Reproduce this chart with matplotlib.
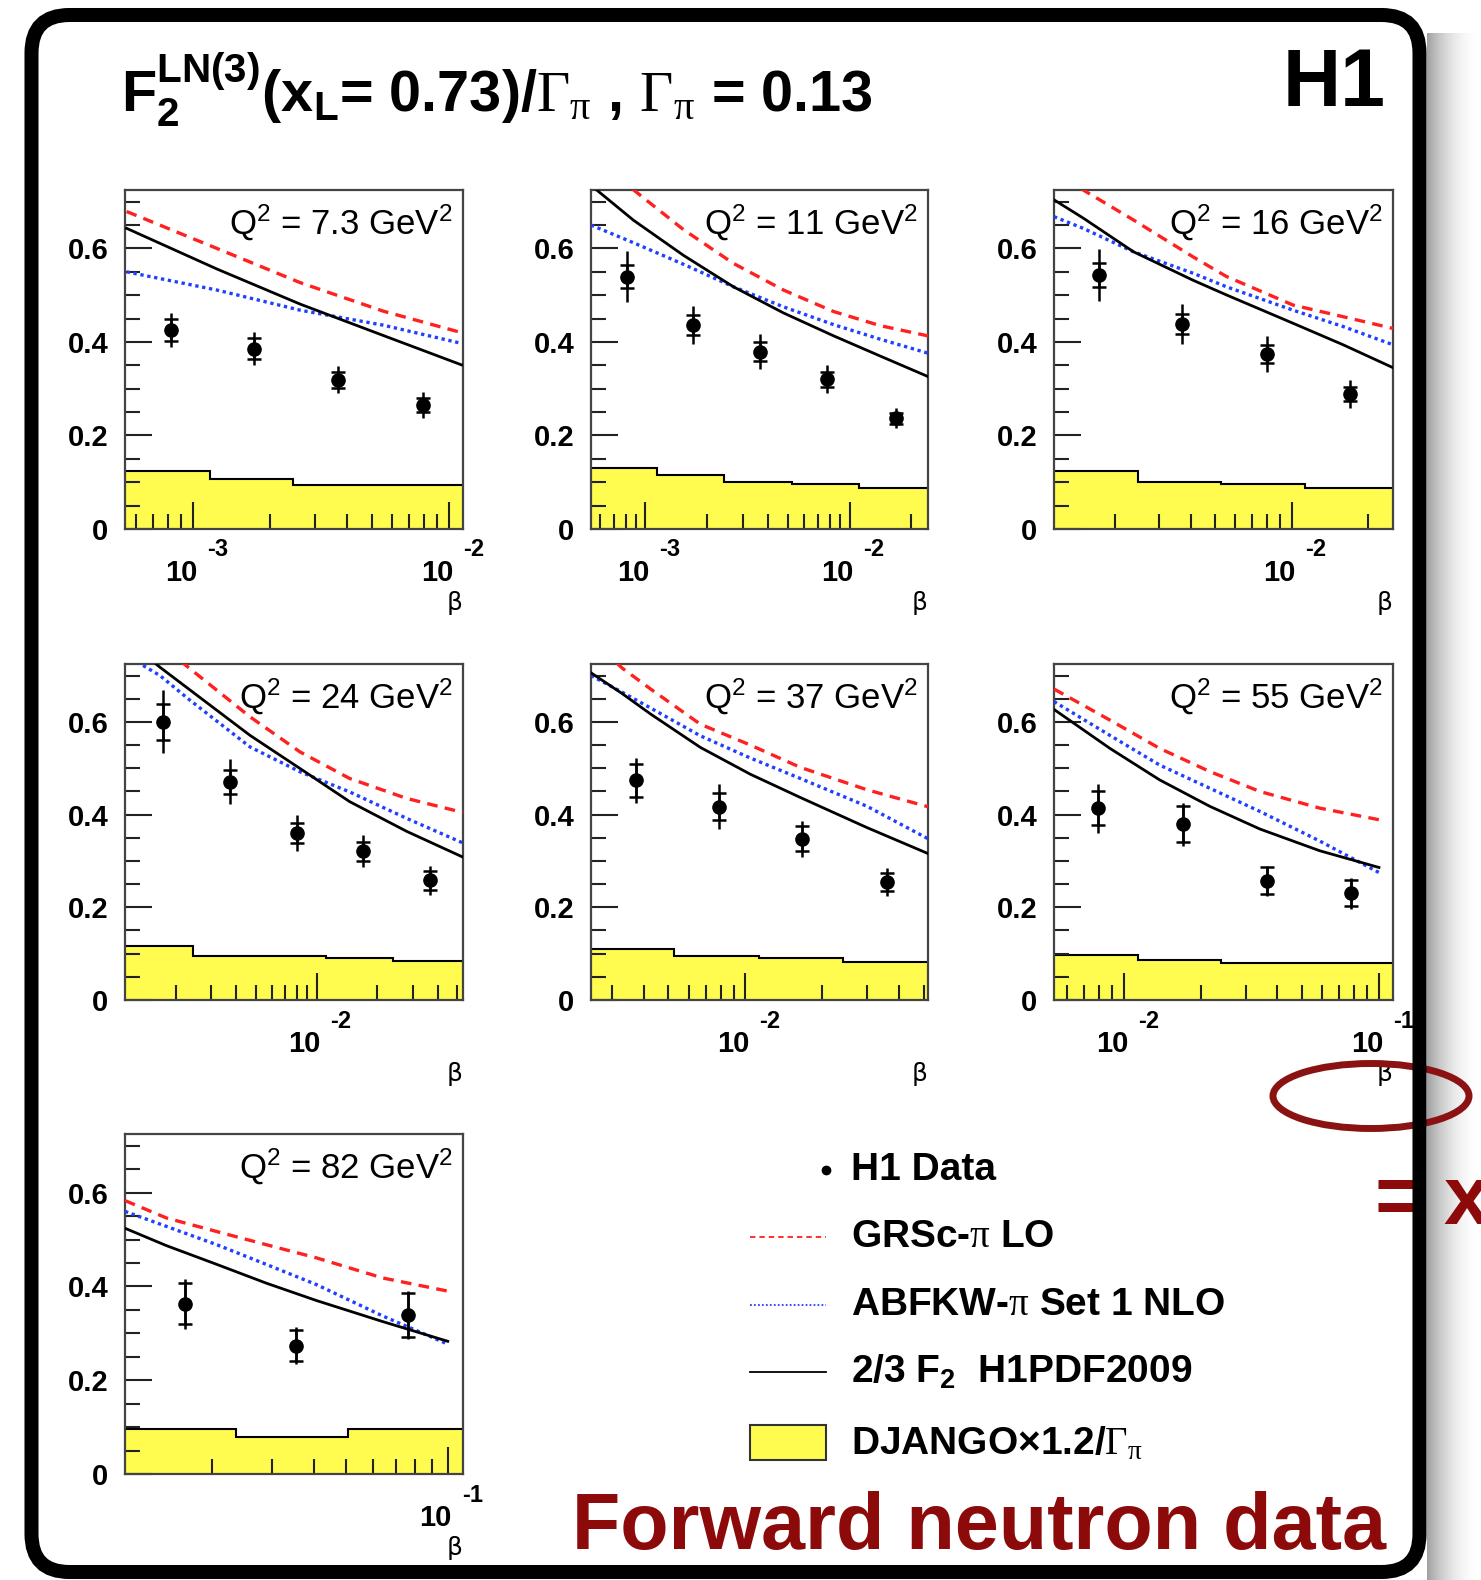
import numpy as np
import matplotlib
matplotlib.use('Agg')
import matplotlib.pyplot as plt
from matplotlib.patches import FancyBboxPatch, Ellipse, Rectangle
from matplotlib.transforms import offset_copy, blended_transform_factory
from matplotlib.ticker import LogLocator, NullFormatter, MultipleLocator, FixedLocator

plt.rcParams['font.family'] = ['Liberation Sans', 'DejaVu Sans']
plt.rcParams['mathtext.fontset'] = 'custom'
plt.rcParams['mathtext.rm'] = 'Liberation Serif'
plt.rcParams['mathtext.default'] = 'regular'

W, H = 1481, 1580

# ---- data ----
q2_labels = ['7.3', '11', '16', '24', '37', '55', '82']

x_ranges = [(5.42e-4, 1.135e-2), (5.42e-4, 2.42e-2), (1.15e-3, 2.52e-2),
            (1.117e-3, 5.34e-2), (2.49e-3, 5.18e-2), (5.32e-3, 0.1135),
            (1.1e-2, 0.111)]

# H1 data points
data_beta = [[8.2e-4, 1.73e-3, 3.68e-3, 7.9e-3],
             [8.1e-4, 1.72e-3, 3.66e-3, 7.75e-3, 1.69e-2],
             [1.74e-3, 3.7e-3, 7.97e-3, 1.71e-2],
             [1.73e-3, 3.7e-3, 7.96e-3, 1.71e-2, 3.66e-2],
             [3.72e-3, 7.87e-3, 1.66e-2, 3.58e-2],
             [7.93e-3, 1.70e-2, 3.64e-2, 7.8e-2],
             [1.66e-2, 3.55e-2, 7.6e-2]]
data_f2 = [[0.426, 0.386, 0.319, 0.265],
           [0.540, 0.436, 0.379, 0.320, 0.237],
           [0.543, 0.4385, 0.374, 0.288],
           [0.600, 0.471, 0.360, 0.321, 0.258],
           [0.474, 0.417, 0.348, 0.255],
           [0.414, 0.379, 0.257, 0.230],
           [0.363, 0.274, 0.339]]
data_tot = [[0.037, 0.036, 0.029, 0.027],
            [0.055, 0.041, 0.037, 0.030, 0.021],
            [0.055, 0.043, 0.039, 0.030],
            [0.068, 0.048, 0.039, 0.034, 0.032],
            [0.049, 0.048, 0.039, 0.030],
            [0.053, 0.046, 0.033, 0.034],
            [0.053, 0.039, 0.051]]
data_stat = [[0.024, 0.022, 0.017, 0.015],
             [0.025, 0.021, 0.020, 0.016, 0.012],
             [0.026, 0.021, 0.020, 0.015],
             [0.038, 0.026, 0.021, 0.020, 0.021],
             [0.035, 0.029, 0.027, 0.020],
             [0.036, 0.039, 0.029, 0.028],
             [0.044, 0.034, 0.046]]

# model curves
curve_beta = [[5.5e-4, 1.24e-3, 2.62e-3, 5.53e-3, 1.12e-2],
              [5.42e-4, 8.77e-4, 1.54e-3, 2.70e-3, 4.75e-3, 8.36e-3, 1.41e-2, 2.42e-2],
              [1.15e-3, 1.50e-3, 2.37e-3, 4.08e-3, 5.53e-3, 1.014e-2, 1.60e-2, 2.52e-2],
              [1.117e-3, 1.667e-3, 2.30e-3, 4.67e-3, 8.26e-3, 1.46e-2, 2.80e-2, 5.35e-2],
              [2.49e-3, 3.30e-3, 4.26e-3, 6.67e-3, 1.047e-2, 1.64e-2, 2.99e-2, 5.18e-2],
              [5.32e-3, 8.81e-3, 1.38e-2, 2.17e-2, 3.41e-2, 5.86e-2, 0.1],
              [1.10e-2, 1.46e-2, 2.06e-2, 2.89e-2, 4.07e-2, 6.41e-2, 0.1]]
grsc_lo = [[0.679, 0.600, 0.527, 0.466, 0.420],
           [0.80, 0.725, 0.640, 0.568, 0.511, 0.465, 0.435, 0.413],
           [0.78, 0.725, 0.661, 0.582, 0.54, 0.479, 0.454, 0.429],
           [0.83, 0.77, 0.718, 0.611, 0.5355, 0.478, 0.435, 0.4045],
           [0.78, 0.716, 0.671, 0.595, 0.55, 0.502, 0.4536, 0.417],
           [0.671, 0.604, 0.543, 0.493, 0.45, 0.414, 0.389],
           [0.583, 0.546, 0.517, 0.489, 0.461, 0.418, 0.39]]
abfkw_nlo = [[0.550, 0.511, 0.468, 0.436, 0.397],
             [0.650, 0.612, 0.566, 0.518, 0.475, 0.437, 0.406, 0.376],
             [0.668, 0.643, 0.593, 0.547, 0.518, 0.468, 0.433, 0.394],
             [0.745, 0.700, 0.650, 0.546, 0.4926, 0.449, 0.392, 0.3386],
             [0.70, 0.664, 0.630, 0.570, 0.522, 0.478, 0.418, 0.348],
             [0.644, 0.571, 0.507, 0.457, 0.407, 0.343, 0.275],
             [0.56, 0.528, 0.489, 0.447, 0.404, 0.337, 0.277]]
h1pdf = [[0.643, 0.556, 0.481, 0.414, 0.351],
         [0.735, 0.660, 0.585, 0.518, 0.462, 0.413, 0.370, 0.326],
         [0.704, 0.665, 0.593, 0.532, 0.5006, 0.44, 0.394, 0.345],
         [0.78, 0.718, 0.672, 0.571, 0.4997, 0.428, 0.364, 0.308],
         [0.706, 0.661, 0.617, 0.545, 0.487, 0.437, 0.372, 0.316],
         [0.627, 0.543, 0.475, 0.418, 0.369, 0.322, 0.286],
         [0.524, 0.487, 0.447, 0.407, 0.370, 0.325, 0.283]]

# DJANGO histograms
django_edges = [[5.0e-4, 1.165e-3, 2.46e-3, 1.2e-2],
                [5.0e-4, 1.14e-3, 2.42e-3, 5.22e-3, 1.11e-2, 2.5e-2],
                [1.1e-3, 2.48e-3, 5.28e-3, 1.13e-2, 2.6e-2],
                [1.1e-3, 2.44e-3, 1.12e-2, 2.4e-2, 5.5e-2],
                [2.4e-3, 5.25e-3, 1.127e-2, 2.41e-2, 5.3e-2],
                [5.2e-3, 1.14e-2, 2.41e-2, 0.115],
                [1.08e-2, 2.35e-2, 5.05e-2, 0.115]]
django_h = [[0.125, 0.107, 0.094],
            [0.130, 0.1155, 0.100, 0.096, 0.087],
            [0.125, 0.101, 0.096, 0.087],
            [0.1166, 0.095, 0.090, 0.0845],
            [0.1093, 0.096, 0.091, 0.0815],
            [0.0964, 0.087, 0.080],
            [0.097, 0.078, 0.097]]

YELLOW = '#fffb4f'
RED = '#ff2020'
BLUE = '#2040ff'
DARKRED = '#8c0a0a'

# panel frames in pixels: left, top, right, bottom
panel_boxes = [(125, 190, 463, 529), (591, 190, 928, 529), (1054, 190, 1393, 529),
               (125, 664, 463, 1000), (591, 664, 928, 1000), (1054, 664, 1393, 1000),
               (125, 1134, 463, 1474)]

fig = plt.figure(figsize=(W / 100, H / 100), dpi=100)


def px_rect(l, t, r, b):
    return [l / W, 1 - b / H, (r - l) / W, (b - t) / H]


for i in range(7):
    l, t, r, b = panel_boxes[i]
    ax = fig.add_axes(px_rect(l, t, r, b))
    ax.set_xscale('log')

    ax.stairs(django_h[i], django_edges[i], fill=True, color=YELLOW, zorder=1)
    ax.stairs(django_h[i], django_edges[i], color='black', lw=1.5,
              baseline=None, zorder=1.1)

    ax.plot(curve_beta[i], grsc_lo[i], color=RED, lw=2.4, ls=(0, (3.2, 2.2)), zorder=3)
    ax.plot(curve_beta[i], abfkw_nlo[i], color=BLUE, lw=2.4, ls=(0, (1, 1.1)), zorder=3)
    ax.plot(curve_beta[i], h1pdf[i], color='black', lw=2.0, zorder=3)

    ax.errorbar(data_beta[i], data_f2[i], yerr=data_tot[i], fmt='o', color='black',
                ms=9.5, elinewidth=1.8, capsize=0, zorder=4)
    ax.errorbar(data_beta[i], data_f2[i], yerr=data_stat[i], fmt='none',
                ecolor='black', elinewidth=1.8, capsize=5, capthick=1.8, zorder=4)

    ax.set_xlim(*x_ranges[i])
    ax.set_ylim(0, 0.725)

    for s in ax.spines.values():
        s.set_color('#444444')
        s.set_linewidth(1.6)

    ax.yaxis.set_major_locator(FixedLocator([0, 0.2, 0.4, 0.6]))
    ax.yaxis.set_minor_locator(MultipleLocator(0.05))
    ax.set_yticklabels(['0', '0.2', '0.4', '0.6'], fontsize=21, fontweight='bold')
    ax.xaxis.set_major_locator(LogLocator(base=10, numticks=10))
    ax.xaxis.set_minor_locator(LogLocator(base=10, subs=np.arange(2, 10), numticks=20))
    ax.xaxis.set_major_formatter(NullFormatter())
    ax.xaxis.set_minor_formatter(NullFormatter())
    ax.tick_params(which='both', direction='in', top=False, right=False,
                   color='#222222', width=1.5)
    ax.tick_params(which='major', length=19.5, pad=12)
    ax.tick_params(which='minor', length=10.5)

    # ROOT style decade labels
    base = blended_transform_factory(ax.transData, ax.transAxes)
    lo, hi = x_ranges[i]
    for d in range(int(np.floor(np.log10(lo))), int(np.ceil(np.log10(hi))) + 1):
        if lo <= 10.0 ** d <= hi:
            ax.text(10.0 ** d, 0, '10', transform=offset_copy(base, fig, x=-12, y=-44, units='dots'),
                    ha='center', va='center', fontsize=21, fontweight='bold', clip_on=False)
            ax.text(10.0 ** d, 0, str(d), transform=offset_copy(base, fig, x=14, y=-21, units='dots'),
                    ha='left', va='center', fontsize=17, fontweight='bold', clip_on=False)

    ax.text(1, 0, 'β', transform=offset_copy(ax.transAxes, fig, x=-8, y=-74, units='dots'),
            ha='center', va='center', fontsize=18, family='DejaVu Sans')
    ax.text(1, 1, 'Q$^2$ = %s GeV$^2$' % q2_labels[i],
            transform=offset_copy(ax.transAxes, fig, x=-10, y=-33, units='dots'),
            ha='right', va='center', fontsize=25)

# ---- slide decorations, title and legend ----
deco = fig.add_axes([0, 0, 1, 1], zorder=5)
deco.set_autoscale_on(False)
deco.set_xlim(0, W)
deco.set_ylim(H, 0)
deco.axis('off')
deco.patch.set_alpha(0)

t = np.linspace(0, 1, 120)
shade = 1 - 0.37 * (1 - t) ** 2
deco.imshow(shade[None, :], cmap='gray', vmin=0, vmax=1, aspect='auto',
            extent=(1427, 1481, 1580, 33), zorder=0)

deco.add_patch(Ellipse((1371, 1096), 196, 65, fill=False, edgecolor='#8b1212',
                       lw=5, zorder=1))
deco.text(1375, 1224, '=', color=DARKRED, fontsize=60, fontweight='bold',
          ha='left', va='baseline', zorder=1)
deco.text(1443, 1224, 'x', color=DARKRED, fontsize=60, fontweight='bold',
          ha='left', va='baseline', zorder=1)

deco.add_patch(FancyBboxPatch((31.5, 15), 1388, 1557,
                              boxstyle='round,pad=0,rounding_size=38',
                              facecolor='none', edgecolor='black', lw=10.1, zorder=3))

deco.text(121, 111, r'F$_2^{LN(3)}$(x$_L$= 0.73)/$\mathrm{\Gamma_\pi}$ , $\mathrm{\Gamma_\pi}$ = 0.13',
          fontsize=41.5, fontweight='bold', ha='left', va='baseline')
deco.text(1386, 106, 'H1', fontsize=58, fontweight='bold', ha='right', va='baseline')

legend_rows = [1170, 1237, 1305, 1372, 1443]
legend_texts = ['H1 Data', r'GRSc-$\mathrm{\pi}$ LO', r'ABFKW-$\mathrm{\pi}$ Set 1 NLO',
                '2/3 F$_2$  H1PDF2009', r'DJANGO×1.2/$\mathrm{\Gamma_\pi}$']
deco.plot([826], [legend_rows[0]], 'o', color='black', ms=6)
deco.plot([750, 826], [legend_rows[1]] * 2, color=RED, lw=1.3, ls=(0, (3, 2.2)))
deco.plot([750, 826], [legend_rows[2]] * 2, color=BLUE, lw=1.3, ls=(0, (1, 1.2)))
deco.plot([750, 826], [legend_rows[3]] * 2, color='black', lw=1.3)
deco.add_patch(Rectangle((750, legend_rows[4] - 18), 76, 35, facecolor=YELLOW,
                         edgecolor='#333333', lw=1.5))
for y, s in zip(legend_rows, legend_texts):
    deco.text(851, y, s, fontsize=28, fontweight='bold', ha='left', va='center')

deco.text(572, 1549, 'Forward neutron data', fontsize=57, fontweight='bold',
          color=DARKRED, ha='left', va='baseline')

fig.savefig('out.png', dpi=100)
